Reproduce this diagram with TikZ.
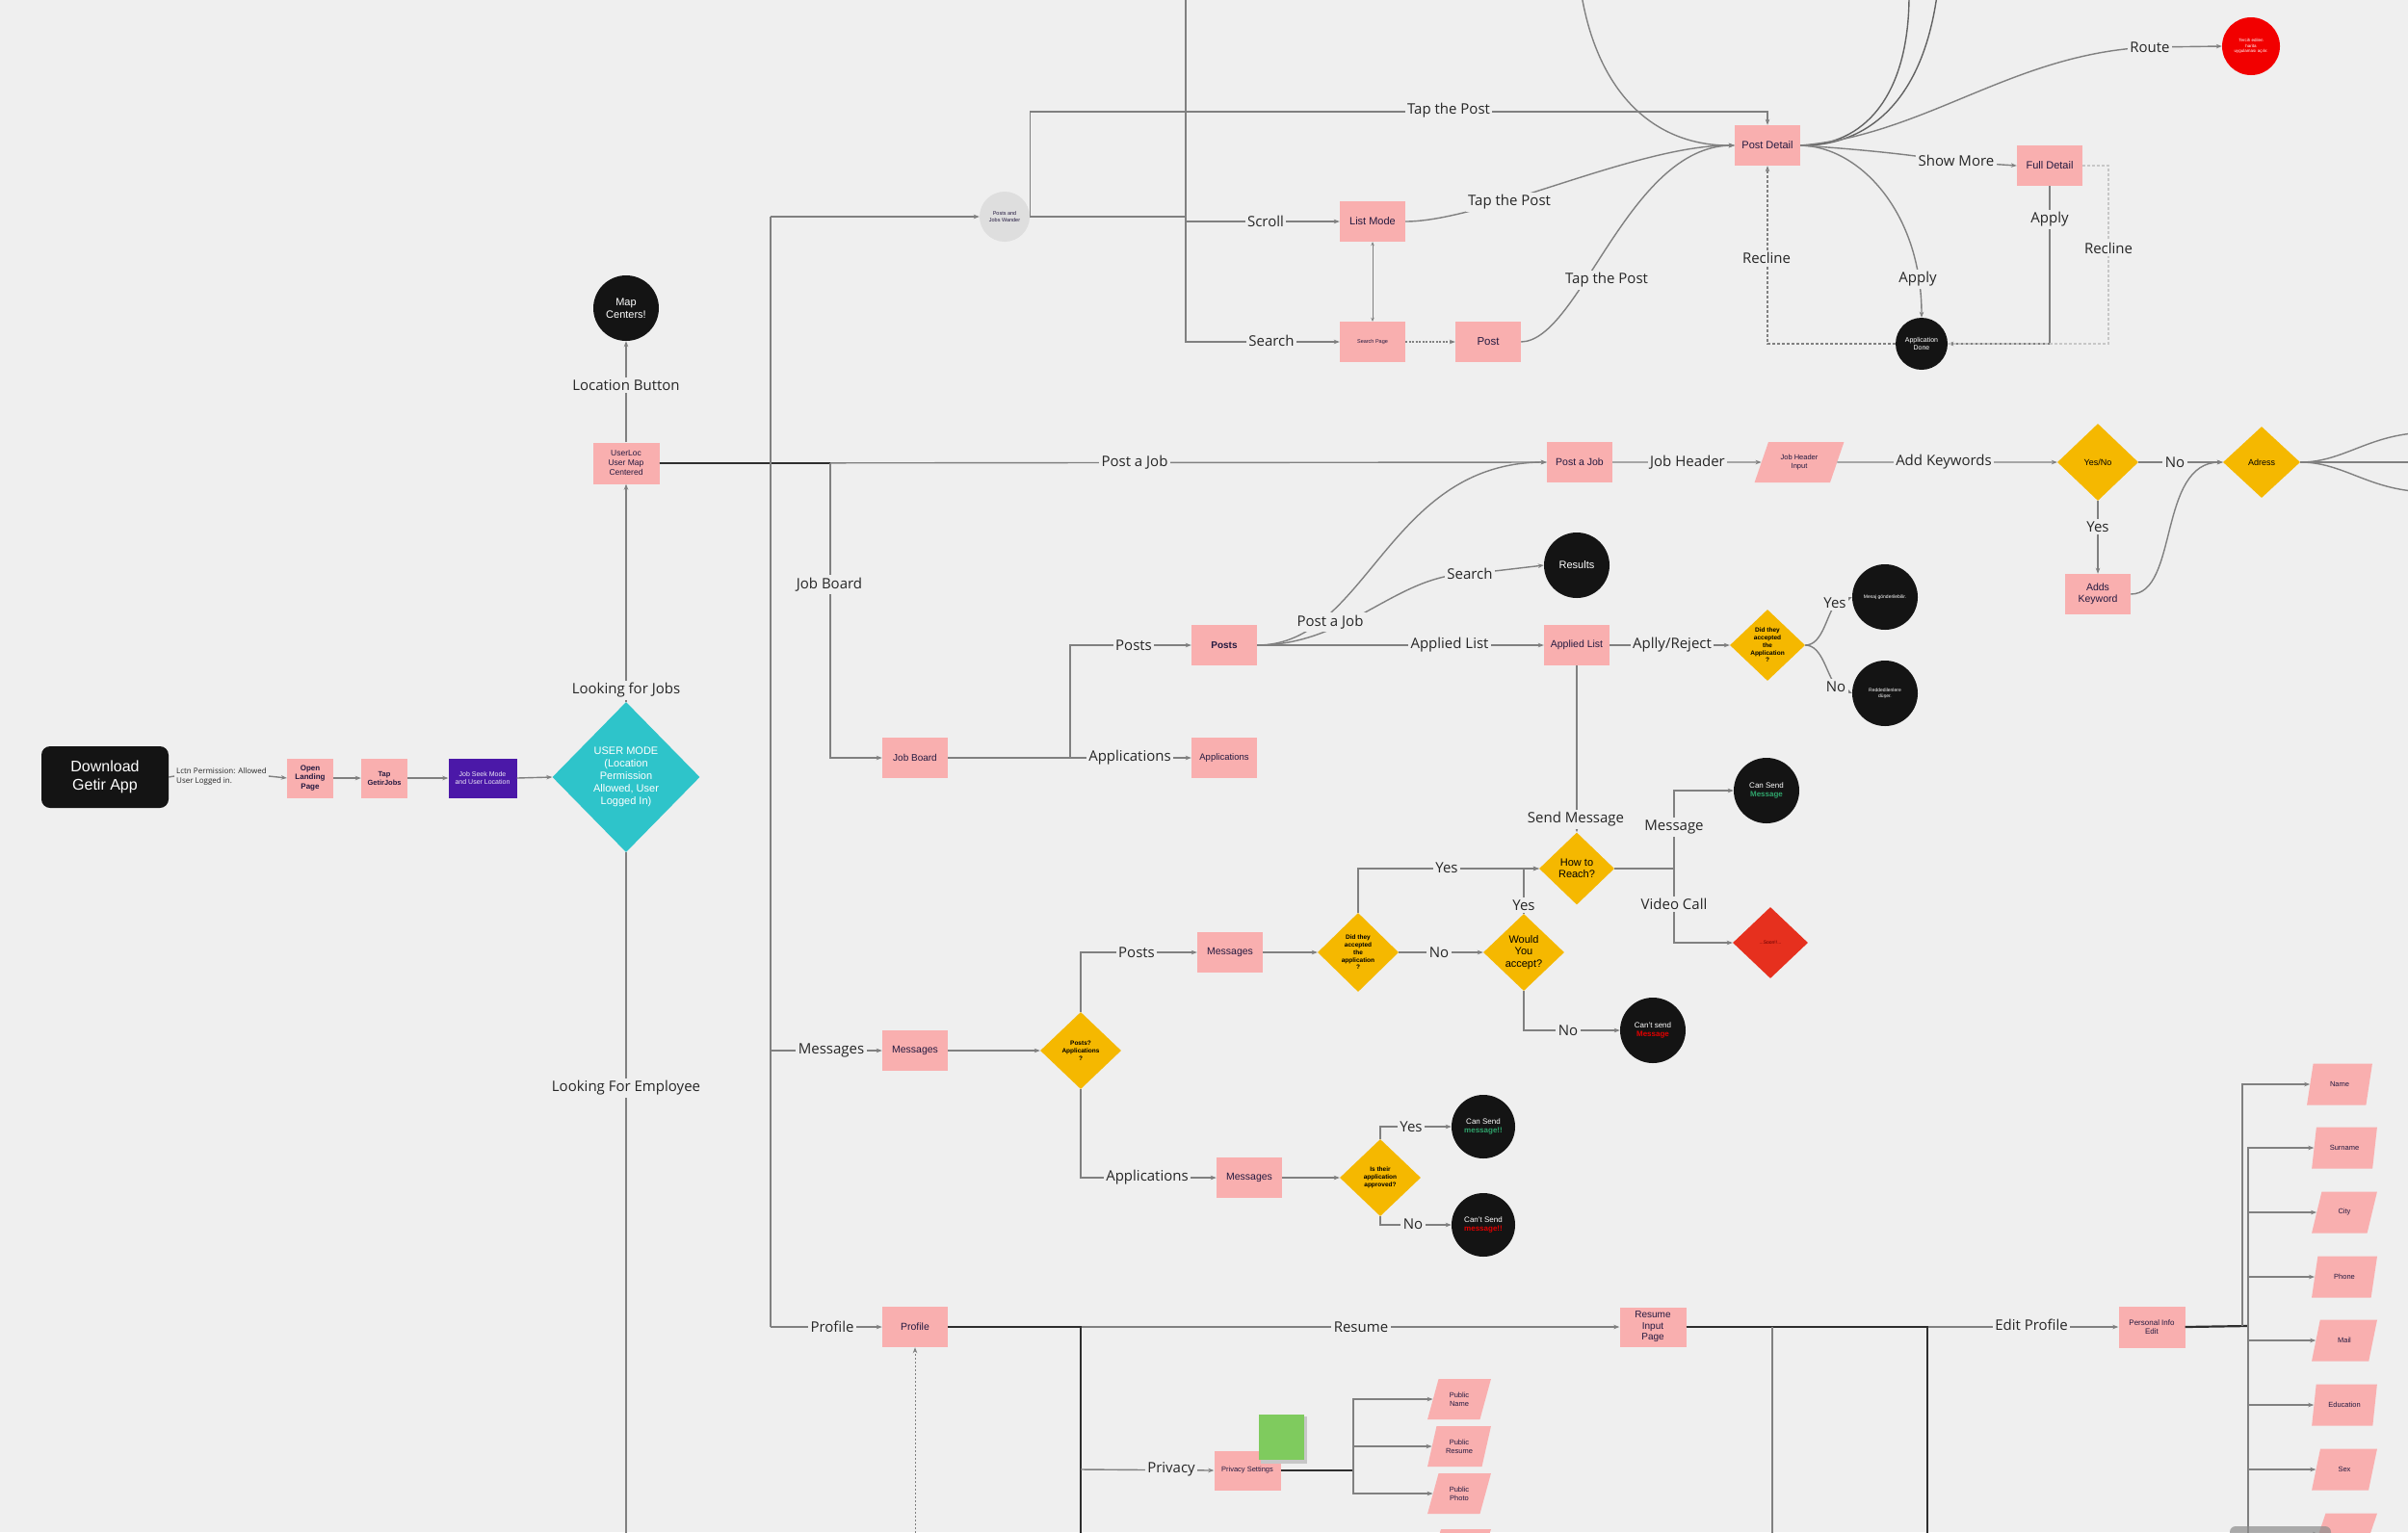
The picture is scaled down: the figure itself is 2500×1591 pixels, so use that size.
\documentclass[tikz,border=0pt]{standalone}
\usepackage{fontspec}
\setmainfont{Liberation Sans}
\newfontfamily\labelfamily{Open Sans}
\usetikzlibrary{shapes.geometric,arrows.meta}
\definecolor{bgc}{HTML}{EFEFEF}
\definecolor{pinkc}{HTML}{F9AFAF}
\definecolor{navyc}{HTML}{241A40}
\definecolor{yellc}{HTML}{F5B800}
\definecolor{cyanc}{HTML}{2EC4CA}
\definecolor{purpc}{HTML}{4B18A8}
\definecolor{blkc}{HTML}{141414}
\definecolor{linec}{HTML}{808080}
\definecolor{darkl}{HTML}{2E2E2E}
\definecolor{redc}{HTML}{F20000}
\definecolor{soonc}{HTML}{E6301E}
\definecolor{greenc}{HTML}{2FA36B}
\definecolor{msgred}{HTML}{E00000}
\definecolor{stickyc}{HTML}{7FCB5E}
\definecolor{txtc}{HTML}{262626}
\newcommand\fsz[2]{\fontsize{#1pt}{#2pt}\selectfont}
\tikzset{
  pbox/.style={rectangle,fill=pinkc,text=navyc,align=center,minimum width=68pt,minimum height=42pt,inner sep=1pt,font=\fsz{10.5}{12}},
  para/.style={trapezium,trapezium stretches=true,trapezium left angle=70,trapezium right angle=110,fill=pinkc,text=navyc,align=center,minimum width=68pt,minimum height=43pt,inner sep=1pt,font=\fsz{7.5}{9}},
  dia/.style={diamond,fill=yellc,text=black,align=center,minimum width=84pt,minimum height=80pt,inner sep=0pt,font=\fsz{6.5}{7.8}\bfseries},
  bcirc/.style={circle,fill=blkc,text=white,align=center,minimum size=68pt,inner sep=0pt,font=\fsz{7.5}{9}},
  lab/.style={fill=bgc,text=txtc,font=\labelfamily\fsz{15}{18},inner sep=2.5pt},
  conn/.style={draw=linec,line width=1.4pt,-{Stealth[length=6pt,width=4.5pt]}},
  ln/.style={draw=linec,line width=1.4pt},
  heavy/.style={draw=darkl,line width=2.2pt},
}
\begin{document}
\begin{tikzpicture}[x=1pt,y=-1pt]
\fill[bgc] (0,0) rectangle (2500,1591);
\useasboundingbox (0,0) rectangle (2500,1591);
\clip (0,0) rectangle (2500,1591);

% ---------------- nodes: left ----------------
\node[rounded corners=9pt,fill=blkc,text=white,minimum width=132pt,minimum height=64pt,align=center,font=\fsz{16}{18.5}] (dl) at (109,807) {Download\\Getir App};
\node[font=\labelfamily\fsz{8}{10},fill=bgc,align=left,inner sep=2pt,anchor=west,text=txtc] (lctn) at (181,806) {Lctn Permission: Allowed\\User Logged in.};
\node[pbox,minimum width=48pt,minimum height=41pt,font=\fsz{8}{9.5}\bfseries] (open) at (322,808) {Open\\Landing\\Page};
\node[pbox,minimum width=48pt,minimum height=41pt,font=\fsz{7.5}{9}\bfseries] (tap) at (399,808) {Tap\\GetirJobs};
\node[pbox,fill=purpc,text=white!90!purpc,minimum width=71pt,minimum height=41pt,font=\fsz{7}{8.5}] (seek) at (501,808) {Job Seek Mode\\and User Location};
\node[diamond,fill=cyanc,text=white,align=center,minimum width=153pt,minimum height=156pt,inner sep=0pt,font=\fsz{11}{13}] (umode) at (650,807) {USER MODE\\(Location\\Permission\\Allowed, User\\Logged In)};
\node[pbox,minimum width=69pt,minimum height=43pt,font=\fsz{8.5}{10}] (uloc) at (650,481) {UserLoc\\User Map\\Centered};
\node[bcirc,font=\fsz{11}{13}] (map) at (650,320) {Map\\Centers!};

% ---------------- nodes: top ----------------
\node[circle,fill=black!13,text=navyc,minimum size=52pt,inner sep=0pt,align=center,font=\fsz{5.5}{6.5}] (wander) at (1043,225) {Posts and\\Jobs Wander};
\node[pbox,font=\fsz{11}{13}] (list) at (1425,230) {List Mode};
\node[pbox,font=\fsz{5.5}{6.5}] (spage) at (1425,355) {Search Page};
\node[pbox,font=\fsz{11.5}{13}] (post) at (1545,355) {Post};
\node[pbox,font=\fsz{11}{13}] (pdetail) at (1835,151) {Post Detail};
\node[pbox,font=\fsz{11}{13}] (full) at (2128,172) {Full Detail};
\node[circle,fill=redc,text=white,minimum size=60pt,inner sep=0pt,align=center,font=\fsz{4.5}{5.5}] (red) at (2337,48) {Tercih edilen\\harita\\uygulaması açılır.};
\node[bcirc,minimum size=54pt,font=\fsz{7}{8.5}] (appdone) at (1995,357) {Application\\Done};

% ---------------- nodes: post a job row ----------------
\node[pbox,font=\fsz{10.5}{12}] (pjob) at (1640,480) {Post a Job};
\node[para,trapezium left angle=63,trapezium right angle=117,minimum width=93pt,minimum height=42pt,font=\fsz{7.5}{9}] (jhi) at (1868,480) {Job Header\\Input};
\node[dia,font=\fsz{9}{10}] (yn) at (2178,480) {Yes/No};
\node[dia,minimum width=80pt,minimum height=74pt,font=\fsz{9}{10}] (adr) at (2348,480) {Adress};
\node[pbox,font=\fsz{10.5}{12.5}] (addk) at (2178,617) {Adds\\Keyword};

% ---------------- nodes: job board ----------------
\node[pbox,font=\fsz{10}{12}] (jb) at (950,787) {Job Board};
\node[pbox,font=\fsz{10}{12}\bfseries] (posts) at (1271,670) {Posts};
\node[pbox,font=\fsz{9.5}{11}] (apps) at (1271,787) {Applications};
\node[bcirc,font=\fsz{11}{13}] (results) at (1637,587) {Results};
\node[pbox,font=\fsz{10.5}{12}] (applied) at (1637,670) {Applied List};
\node[dia,minimum width=78pt,minimum height=74pt] (did1) at (1835,670) {Did they\\accepted\\the\\Application\\?};
\node[bcirc,font=\fsz{5}{6}] (yesc) at (1957,620) {Mesaj gönderilebilir.};
\node[bcirc,font=\fsz{5}{6}] (noc) at (1957,720) {Reddedilenlere\\düşer.};
\node[dia,minimum width=78pt,minimum height=75pt,font=\fsz{11}{12.5}\mdseries] (how) at (1637,902) {How to\\Reach?};
\node[bcirc,font=\fsz{8}{9.5}] (cansend) at (1834,821) {Can Send\\{\color{greenc}\bfseries Message}};
\node[diamond,fill=soonc,text=red!40!black,minimum width=78pt,minimum height=74pt,inner sep=0pt,font=\fsz{5}{6}] (soon) at (1838,979) {...Soon!!...};

% ---------------- nodes: messages ----------------
\node[pbox,font=\fsz{10.5}{12}] (msg1) at (950,1091) {Messages};
\node[dia] (pa) at (1122,1091) {Posts?\\Applications\\?};
\node[pbox,font=\fsz{10.5}{12}] (msg2) at (1277,989) {Messages};
\node[dia,minimum height=82pt] (did2) at (1410,989) {Did they\\accepted\\the\\application\\?};
\node[dia,font=\fsz{11}{12.5}\mdseries] (would) at (1582,989) {Would\\You\\accept?};
\node[bcirc,font=\fsz{8}{9.5}] (cantsend) at (1716,1070) {Can't send\\{\color{msgred}\bfseries Message}};
\node[pbox,font=\fsz{10.5}{12}] (msg3) at (1297,1223) {Messages};
\node[dia] (isap) at (1433,1223) {Is their\\application\\approved?};
\node[bcirc,minimum size=66pt,font=\fsz{8}{9.5}] (cs2) at (1540,1170) {Can Send\\{\color{greenc}\bfseries message!!}};
\node[bcirc,minimum size=66pt,font=\fsz{8}{9.5}] (cns2) at (1540,1272) {Can't Send\\{\color{msgred}\bfseries message!!}};

% ---------------- nodes: profile ----------------
\node[pbox,font=\fsz{10.5}{12}] (prof) at (950,1378) {Profile};
\node[pbox,minimum width=69pt,minimum height=41pt,font=\fsz{7.5}{9}] (priv) at (1295,1527) {Privacy Settings};
\fill[black!22] (1309,1471) rectangle (1357,1520);
\node[fill=stickyc,minimum width=47pt,minimum height=47pt,inner sep=0pt] (sticky) at (1330,1492) {};
\node[para,minimum width=66pt,minimum height=42pt] (pname) at (1515,1453) {Public\\Name};
\node[para,minimum width=66pt,minimum height=42pt] (presume) at (1515,1502) {Public\\Resume};
\node[para,minimum width=66pt,minimum height=42pt] (pphoto) at (1515,1551) {Public\\Photo};
\node[para,minimum width=66pt,minimum height=42pt,inner sep=3pt] (psliver) at (1515,1609) {\phantom{x}};
\node[pbox,minimum width=69pt,minimum height=41pt,font=\fsz{10}{11.5}] (res) at (1716,1378) {Resume\\Input\\Page};
\node[pbox,minimum width=69pt,minimum height=43pt,font=\fsz{8}{9.5}] (pie) at (2234,1378) {Personal Info\\Edit};
\node[para] (name) at (2429,1126) {Name};
\node[para] (surname) at (2434,1192) {Surname};
\node[para] (city) at (2434,1259) {City};
\node[para] (phone) at (2434,1326) {Phone};
\node[para] (mail) at (2434,1392) {Mail};
\node[para] (edu) at (2434,1459) {Education};
\node[para] (sex) at (2434,1526) {Sex};
\node[para,inner sep=3pt] (last) at (2434,1593) {\phantom{x}};

% ---------------- connectors: left ----------------
\draw[ln] (dl.east) -- (lctn.west);
\draw[conn] (lctn.east) -- (open.west);
\draw[conn] (open.east) -- (tap.west);
\draw[conn] (tap.east) -- (seek.west);
\draw[conn] (seek.east) -- (umode.west);
\draw[conn] (umode.north) -- (uloc.south);
\draw[conn] (uloc.north) -- (map.south);
\coordinate (empEnd) at (650,1600);
\draw[ln] (umode.south) -- (empEnd);

% trunk
\coordinate (tTop) at (800,225);
\coordinate (jbTop) at (862,481);
\coordinate (tMsg) at (800,1091);
\coordinate (tBot) at (800,1378);
\draw[conn] (uloc.east) -- (pjob.west);
\draw[heavy] (uloc.east) -- (jbTop);
\draw[ln] (tTop) -- (tBot);
\draw[conn] (tTop) -- (wander.west);
\draw[conn] (jbTop) |- (jb.west);
\draw[conn] (tMsg) -- (msg1.west);
\draw[conn] (tBot) -- (prof.west);

% ---------------- connectors: top ----------------
\coordinate (vTop) at (1231,-5);
\coordinate (vJ) at (1231,225);
\draw[ln] (wander.east) -- (vJ);
\draw[ln] (vTop) -- (vJ);
\draw[conn] (wander.east) -- ++(0,-109) -| (pdetail.north);
\draw[conn] (vJ) |- (list.west);
\draw[conn] (vJ) |- (spage.west);
\draw[draw=linec,line width=0.9pt,{Stealth[length=4pt,width=3.5pt]}-{Stealth[length=4pt,width=3.5pt]}] (list.south) -- (spage.north);
\draw[conn,dash pattern=on 2pt off 1.5pt] (spage.east) -- (post.west);
\draw[conn] (list.east) .. controls (1540,230) and (1700,150) .. (pdetail.west);
\draw[conn] (post.east) .. controls (1640,354) and (1690,152) .. (pdetail.west);
\coordinate (tl) at (1642,-5);
\draw[conn] (tl) .. controls (1660,100) and (1720,152) .. (pdetail.west);
\coordinate (tr1) at (1982,-5);
\coordinate (tr2) at (2011,-5);
\draw[ln,draw=darkl!75] (pdetail.east) .. controls (1935,152) and (1982,100) .. (tr1);
\draw[ln,draw=darkl!75] (pdetail.east) .. controls (1935,152) and (1995,110) .. (tr2);
\coordinate (routeP) at (2232,49);
\draw[conn] (pdetail.east) .. controls (2000,140) and (2090,55) .. (routeP) -- (red.west);
\coordinate (showP) at (2031,168);
\draw[conn] (pdetail.east) .. controls (1930,155) and (1980,160) .. (showP) -- (full.west);
\draw[conn] (pdetail.east) .. controls (1930,152) and (1995,220) .. (appdone.north);
\draw[conn] (full.south) |- (appdone.east);
\draw[conn,dash pattern=on 3pt off 2pt] (appdone.west) -| (pdetail.south);
\coordinate (rcl) at (2189,357);
\draw[draw=black!22,line width=1.2pt,dash pattern=on 3pt off 2pt] (full.east) -| (rcl) -- (appdone.east);

% ---------------- connectors: post a job ----------------
\draw[conn] (pjob.east) -- (jhi);
\draw[conn] (jhi) -- (yn);
\draw[conn] (yn) -- (adr);
\draw[conn] (yn) -- (addk);
\draw[conn] (addk.east) .. controls (2262,617) and (2240,480) .. (adr.west);
\coordinate (e1) at (2505,450);
\coordinate (e2) at (2505,480);
\coordinate (e3) at (2505,510);
\draw[ln] (adr.east) .. controls (2430,480) and (2455,455) .. (e1);
\draw[ln] (adr.east) -- (e2);
\draw[ln] (adr.east) .. controls (2430,480) and (2455,505) .. (e3);

% ---------------- connectors: job board ----------------
\coordinate (jbJ) at (1111,787);
\draw[ln] (jb.east) -- (jbJ);
\draw[conn] (jbJ) |- (posts.west);
\draw[conn] (jbJ) -- (apps.west);
\draw[conn] (posts.east) .. controls (1420,670) and (1440,480) .. (pjob.west);
\coordinate (srchP) at (1526,596);
\draw[conn] (posts.east) .. controls (1400,670) and (1450,596) .. (srchP) -- (results.west);
\draw[conn] (posts.east) -- (applied.west);
\draw[conn] (applied.east) -- (did1.west);
\coordinate (yP) at (1905,628);
\coordinate (nP) at (1906,712);
\draw[conn] (did1.east) .. controls (1892,670) and (1896,640) .. (yP) -- (yesc.west);
\draw[conn] (did1.east) .. controls (1892,670) and (1896,700) .. (nP) -- (noc.west);
\draw[conn] (applied.south) -- (how.north);
\coordinate (hJ) at (1738,902);
\draw[ln] (how.east) -- (hJ);
\draw[conn] (hJ) |- (cansend.west);
\draw[conn] (hJ) |- (soon.west);

% ---------------- connectors: messages ----------------
\draw[conn] (msg1.east) -- (pa.west);
\draw[conn] (pa.north) |- (msg2.west);
\draw[conn] (msg2.east) -- (did2.west);
\draw[conn] (did2.east) -- (would.west);
\draw[conn] (did2.north) |- (how.west);
\draw[conn] (would.north) |- (how.west);
\draw[conn] (would.south) |- (cantsend.west);
\draw[conn] (pa.south) |- (msg3.west);
\draw[conn] (msg3.east) -- (isap.west);
\draw[conn] (isap.north) |- (cs2.west);
\draw[conn] (isap.south) |- (cns2.west);

% ---------------- connectors: profile ----------------
\coordinate (profBot) at (950,1600);
\draw[conn,line width=1pt,dash pattern=on 2pt off 2pt] (profBot) -- (prof.south);
\draw[conn] (prof.east) -- (res.west);
\coordinate (pvJ) at (1122,1378);
\coordinate (pvBot) at (1122,1600);
\coordinate (privJ) at (1122,1526);
\draw[heavy] (prof.east) -- (pvJ) -- (pvBot);
\draw[conn] (privJ) -- (priv.west);
\coordinate (ppJ) at (1405,1527);
\draw[heavy] (priv.east) -- (ppJ);
\draw[conn] (ppJ) |- (pname);
\draw[conn] (ppJ) |- (presume);
\draw[conn] (ppJ) |- (pphoto);
\coordinate (r1J) at (1840,1378);
\coordinate (r1Bot) at (1840,1600);
\coordinate (r2J) at (2001,1378);
\coordinate (r2Bot) at (2001,1600);
\draw[conn] (res.east) -- (pie.west);
\draw[heavy] (res.east) -- (r2J) -- (r2Bot);
\draw[ln] (r1J) -- (r1Bot);
\coordinate (pieJ) at (2334,1377);
\draw[heavy] (pie.east) -- (pieJ);
\coordinate (nJ) at (2328,1377);
\coordinate (sBot) at (2334,1600);
\draw[conn] (nJ) |- (name);
\draw[heavy] (pieJ) -- (sBot);
\draw[conn] (pieJ) |- (surname);
\draw[conn] (pieJ) |- (city);
\draw[conn] (pieJ) |- (phone);
\draw[conn] (pieJ) |- (mail);
\draw[conn] (pieJ) |- (edu);
\draw[conn] (pieJ) |- (sex);
\draw[conn] (pieJ) |- (last);
\fill[black!45,opacity=0.7,rounded corners=6pt] (2315,1585) rectangle (2420,1605);

% ---------------- labels ----------------
\node[lab] (lJobs) at (650,717) {Looking for Jobs};
\node[lab] (lEmp) at (650,1130) {Looking For Employee};
\node[lab] (lLoc) at (650,400) {Location Button};
\node[lab] (lPaj) at (1178,480) {Post a Job};
\node[lab] (lJB) at (861,607) {Job Board};
\node[lab] (lTap1) at (1504,115) {Tap the Post};
\node[lab] (lScroll) at (1314,230) {Scroll};
\node[lab] (lSearch) at (1320,354) {Search};
\node[lab] (lTap2) at (1567,210) {Tap the Post};
\node[lab] (lTap3) at (1668,291) {Tap the Post};
\node[lab] (lRoute) at (2232,49) {Route};
\node[lab] (lShow) at (2031,167) {Show More};
\node[lab] (lApply1) at (1991,290) {Apply};
\node[lab] (lApply2) at (2128,228) {Apply};
\node[lab] (lRec1) at (1834,268) {Recline};
\node[lab] (lRec2) at (2189,258) {Recline};
\node[lab] (lJH) at (1752,480) {Job Header};
\node[lab] (lAK) at (2018,480) {Add Keywords};
\node[lab] (lNo1) at (2258,480) {No};
\node[lab] (lYes1) at (2178,547) {Yes};
\node[lab] (lPaj2) at (1381,646) {Post a Job};
\node[lab] (lSrch2) at (1526,596) {Search};
\node[lab] (lAL) at (1505,670) {Applied List};
\node[lab] (lAR) at (1736,670) {Aplly/Reject};
\node[lab] (lYes2) at (1905,626) {Yes};
\node[lab] (lNo2) at (1906,713) {No};
\node[lab] (lPosts) at (1177,670) {Posts};
\node[lab] (lApps) at (1173,787) {Applications};
\node[lab] (lSM) at (1636,851) {Send Message};
\node[lab] (lMsg) at (1738,859) {Message};
\node[lab] (lVC) at (1738,939) {Video Call};
\node[lab] (lMsgs) at (863,1091) {Messages};
\node[lab] (lPosts2) at (1180,989) {Posts};
\node[lab] (lNo3) at (1494,989) {No};
\node[lab] (lYes3) at (1502,901) {Yes};
\node[lab] (lYes4) at (1582,940) {Yes};
\node[lab] (lNo4) at (1628,1070) {No};
\node[lab] (lApps2) at (1191,1223) {Applications};
\node[lab] (lYes5) at (1465,1170) {Yes};
\node[lab] (lNo5) at (1467,1271) {No};
\node[lab] (lProf) at (864,1378) {Profile};
\node[lab] (lRes) at (1413,1378) {Resume};
\node[lab] (lPriv) at (1216,1526) {Privacy};
\node[lab] (lEdit) at (2109,1376) {Edit Profile};
\end{tikzpicture}
\end{document}
